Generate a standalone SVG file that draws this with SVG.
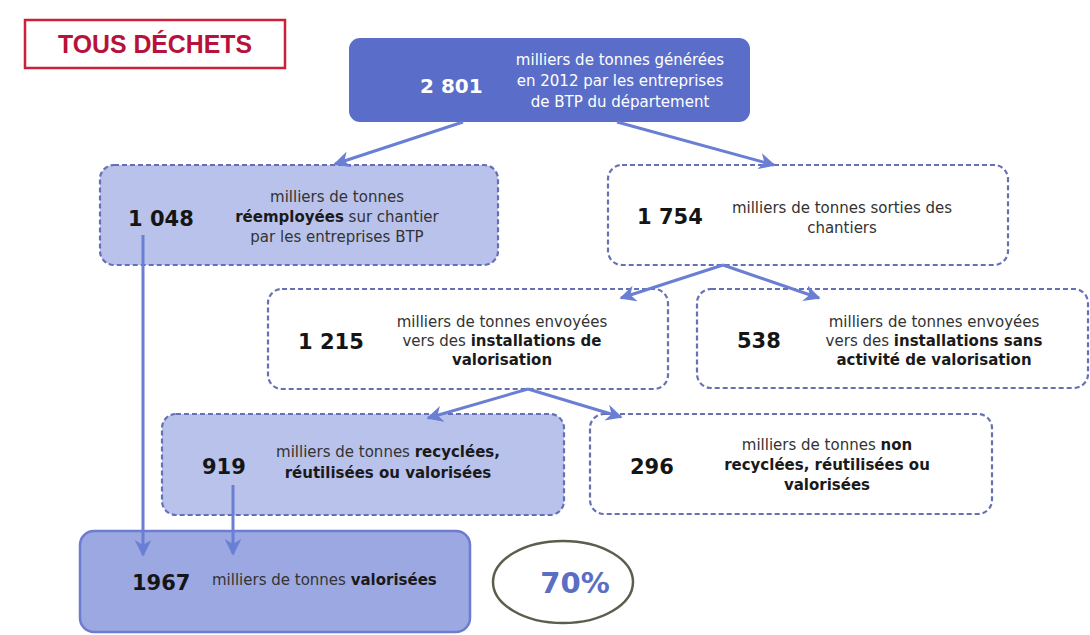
<svg xmlns="http://www.w3.org/2000/svg" width="1090" height="635" viewBox="0 0 1090 635">
<defs>
<marker id="arr" viewBox="0 0 10 10" refX="9" refY="5" markerWidth="5.5" markerHeight="5.5" orient="auto-start-reverse" markerUnits="strokeWidth">
<path d="M0,0 L10,5 L0,10 L3,5 z" fill="#6a7ed4"/>
</marker>
<style>
.t{font-family:"DejaVu Sans",Verdana,sans-serif;font-size:15px;fill:#333;text-anchor:middle}
.w{fill:#fff}
.b{font-weight:bold;fill:#1a1a1a}
.num{font-family:"DejaVu Sans",Verdana,sans-serif;font-size:21px;font-weight:bold;fill:#151515}
.dash{stroke:#6670b4;stroke-width:2.2;stroke-dasharray:5 3}
.light{fill:#b9c2eb}
.white{fill:#fff}
.con{stroke:#6a7ed4;stroke-width:3;fill:none;marker-end:url(#arr)}
</style>
</defs>
<rect width="1090" height="635" fill="#fff"/>

<g id="title">
<rect x="25" y="20" width="260" height="48" fill="#fff" stroke="#cc2038" stroke-width="2.5"/>
<text x="155" y="53" font-family="'Liberation Sans',Arial,sans-serif" font-size="25" font-weight="bold" fill="#b8123a" text-anchor="middle" textLength="194" lengthAdjust="spacingAndGlyphs">TOUS DÉCHETS</text>
</g>

<g id="n2801">
<rect x="349" y="38" width="401" height="84" rx="11" fill="#5a6ec9"/>
<text class="num w" x="420" y="93" style="font-size:20px;fill:#fff">2 801</text>
<text class="t w" x="620" y="65">milliers de tonnes générées</text>
<text class="t w" x="620" y="86">en 2012 par les entreprises</text>
<text class="t w" x="620" y="107">de BTP du département</text>
</g>

<g id="n1048">
<rect x="100" y="165" width="398" height="100" rx="14" class="light dash"/>
<text class="num" x="128" y="226">1 048</text>
<text class="t" x="337" y="202">milliers de tonnes</text>
<text class="t" x="337" y="222"><tspan class="b">réemployées</tspan> sur chantier</text>
<text class="t" x="337" y="242">par les entreprises BTP</text>
</g>

<g id="n1754">
<rect x="608" y="165" width="400" height="100" rx="14" class="white dash"/>
<text class="num" x="637" y="224">1 754</text>
<text class="t" x="842" y="213">milliers de tonnes sorties des</text>
<text class="t" x="842" y="233">chantiers</text>
</g>

<g id="n1215">
<rect x="268" y="289" width="400" height="100" rx="14" class="white dash"/>
<text class="num" x="298" y="349">1 215</text>
<text class="t" x="502" y="327">milliers de tonnes envoyées</text>
<text class="t" x="502" y="346">vers des <tspan class="b">installations de</tspan></text>
<text class="t" x="502" y="365"><tspan class="b">valorisation</tspan></text>
</g>

<g id="n538">
<rect x="697" y="289" width="391" height="99" rx="14" class="white dash"/>
<text class="num" x="737" y="348">538</text>
<text class="t" x="934" y="327">milliers de tonnes envoyées</text>
<text class="t" x="934" y="346">vers des <tspan class="b">installations sans</tspan></text>
<text class="t" x="934" y="365"><tspan class="b">activité de valorisation</tspan></text>
</g>

<g id="n919">
<rect x="162" y="414" width="402" height="101" rx="14" class="light dash"/>
<text class="num" x="202" y="474">919</text>
<text class="t" x="388" y="457">milliers de tonnes <tspan class="b">recyclées,</tspan></text>
<text class="t" x="388" y="478"><tspan class="b">réutilisées ou valorisées</tspan></text>
</g>

<g id="n296">
<rect x="590" y="414" width="402" height="100" rx="14" class="white dash"/>
<text class="num" x="630" y="474">296</text>
<text class="t" x="827" y="450">milliers de tonnes <tspan class="b">non</tspan></text>
<text class="t" x="827" y="470"><tspan class="b">recyclées, réutilisées ou</tspan></text>
<text class="t" x="827" y="490"><tspan class="b">valorisées</tspan></text>
</g>

<g id="n1967">
<rect x="80" y="531" width="390" height="101" rx="14" fill="#9ca8e2" stroke="#6d7bd0" stroke-width="2.5"/>
<text class="num" x="132" y="590">1967</text>
<text class="t" x="212" y="585" style="text-anchor:start">milliers de tonnes <tspan class="b">valorisées</tspan></text>
</g>

<g id="pct">
<ellipse cx="563" cy="582" rx="70" ry="41" fill="#fff" stroke="#5d5d4e" stroke-width="2.5"/>
<text x="575" y="593" font-family="'DejaVu Sans',Verdana,sans-serif" font-size="29" font-weight="bold" fill="#5a6ec4" text-anchor="middle">70%</text>
</g>

<g id="connectors">
<line class="con" x1="463" y1="122" x2="335" y2="164"/>
<line class="con" x1="617" y1="122" x2="774" y2="165"/>
<line class="con" x1="723" y1="265" x2="621" y2="298"/>
<line class="con" x1="723" y1="265" x2="819" y2="298"/>
<line class="con" x1="528" y1="389" x2="428" y2="418"/>
<line class="con" x1="528" y1="389" x2="621" y2="417"/>
<line class="con" x1="143" y1="235" x2="143" y2="555"/>
<line class="con" x1="233" y1="485" x2="233" y2="554"/>
</g>
</svg>
